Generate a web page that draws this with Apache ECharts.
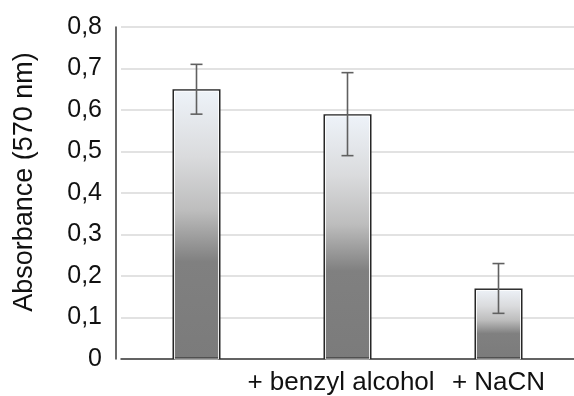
<!DOCTYPE html>
<html>
<head>
<meta charset="utf-8">
<script src="https://cdn.jsdelivr.net/npm/echarts@6/dist/echarts.min.js"></script>
<style>
  html, body { margin: 0; padding: 0; background: #fff; }
  #chart { width: 574px; height: 396px; }
</style>
</head>
<body>
<div id="chart"></div>
<script>
// Absorbance at 570 nm, mean and error range for each condition
const categories = ['', '+ benzyl alcohol', '+ NaCN'];
const absorbance = [0.65, 0.59, 0.17];
const errorLow = [0.59, 0.49, 0.11];
const errorHigh = [0.71, 0.69, 0.23];
const yTicks = ['0', '0,1', '0,2', '0,3', '0,4', '0,5', '0,6', '0,7', '0,8'];

const FONT = 'Liberation Sans, Arial, sans-serif';

const chart = echarts.init(document.getElementById('chart'));

const barFill = new echarts.graphic.LinearGradient(0, 0, 0, 1, [
  { offset: 0, color: '#eef3f9' },
  { offset: 0.25, color: '#dadbdd' },
  { offset: 0.45, color: '#bdbdbd' },
  { offset: 0.64, color: '#808080' },
  { offset: 1, color: '#7b7b7b' }
]);

chart.setOption({
  animation: false,
  grid: { left: 121, width: 456, top: 27, bottom: 37 },
  xAxis: {
    type: 'category',
    data: categories,
    axisTick: { show: false },
    axisLine: { lineStyle: { color: '#3a3a3a', width: 1.5 } },
    axisLabel: {
      color: '#111',
      fontFamily: FONT,
      fontSize: 26,
      margin: 11,
      interval: 0,
      // the long middle label sits slightly left so it clears its neighbour
      formatter: (v, i) => (i === 1 ? '{l|' + v + '}' : v),
      rich: {
        l: { color: '#111', fontFamily: FONT, fontSize: 26, padding: [0, 13, 0, 0] }
      }
    }
  },
  yAxis: {
    type: 'value',
    min: 0,
    max: 0.8,
    interval: 0.1,
    offset: 5,
    name: 'Absorbance (570 nm)',
    nameLocation: 'middle',
    nameGap: 78,
    nameTextStyle: {
      color: '#111',
      fontFamily: FONT,
      fontSize: 27,
      padding: [0, 0, 0, 22]
    },
    axisLine: { show: true, lineStyle: { color: '#3a3a3a', width: 1.5 } },
    axisTick: { show: false },
    axisLabel: {
      color: '#111',
      fontFamily: FONT,
      fontSize: 25,
      margin: 14,
      formatter: (v) => yTicks[Math.round(v * 10)]
    },
    splitLine: { lineStyle: { color: '#d9d9d9', width: 1.5 } }
  },
  series: [
    {
      type: 'bar',
      data: absorbance,
      barWidth: 48,
      itemStyle: { color: barFill, borderColor: '#262626', borderWidth: 1.5 },
      z: 2
    },
    {
      // thin white inner edge along each bar
      type: 'custom',
      data: absorbance.map((v, i) => [i, v]),
      z: 3,
      silent: true,
      renderItem: (params, api) => {
        const top = api.coord([api.value(0), api.value(1)]);
        const base = api.coord([api.value(0), 0]);
        const half = 24 - 2;
        return {
          type: 'rect',
          shape: { x: top[0] - half, y: top[1] + 2, width: half * 2, height: base[1] - top[1] - 2 },
          style: { fill: null, stroke: 'rgba(255,255,255,0.85)', lineWidth: 1 }
        };
      }
    },
    {
      // error bars
      type: 'custom',
      data: absorbance.map((v, i) => [i, errorLow[i], errorHigh[i]]),
      z: 4,
      silent: true,
      renderItem: (params, api) => {
        const lo = api.coord([api.value(0), api.value(1)]);
        const hi = api.coord([api.value(0), api.value(2)]);
        const cap = 6;
        const st = { stroke: '#606060', lineWidth: 1.6 };
        return {
          type: 'group',
          children: [
            { type: 'line', shape: { x1: hi[0], y1: hi[1], x2: lo[0], y2: lo[1] }, style: st },
            { type: 'line', shape: { x1: hi[0] - cap, y1: hi[1], x2: hi[0] + cap, y2: hi[1] }, style: st },
            { type: 'line', shape: { x1: lo[0] - cap, y1: lo[1], x2: lo[0] + cap, y2: lo[1] }, style: st }
          ]
        };
      }
    }
  ]
});
</script>
</body>
</html>
